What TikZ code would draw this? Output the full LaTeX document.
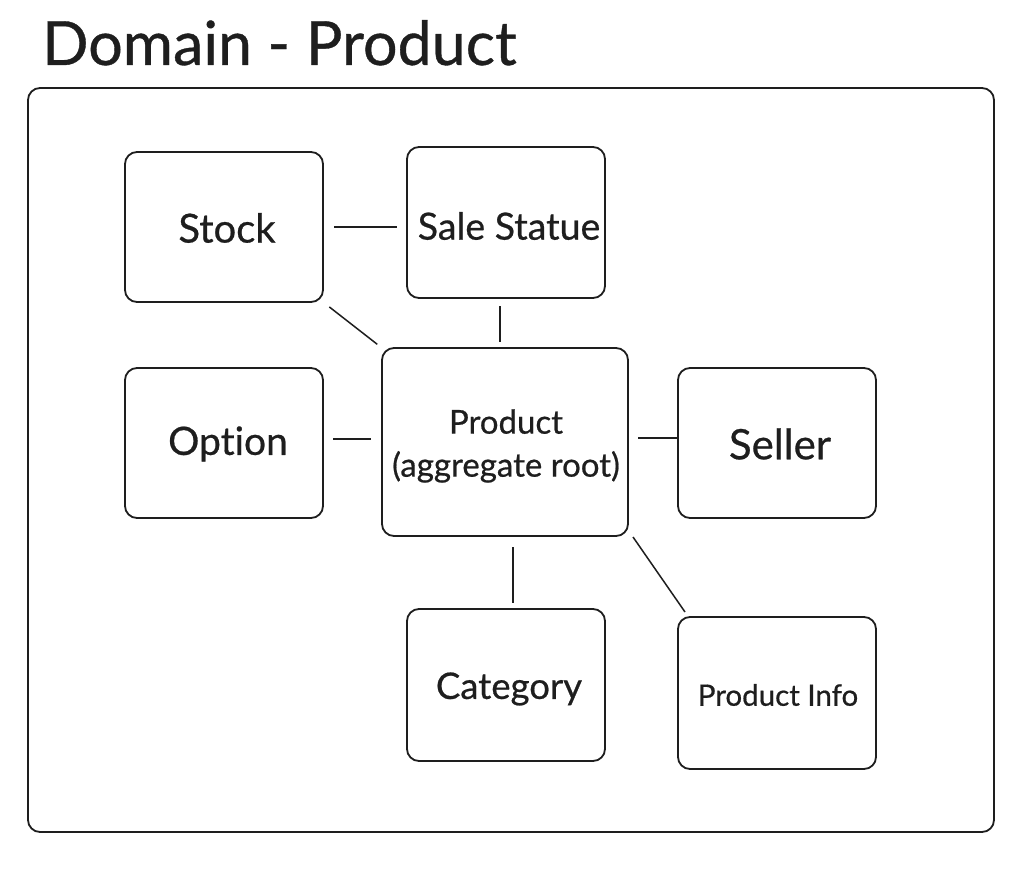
\documentclass[tikz,border=0pt]{standalone}
\usepackage{fontspec}
\setmainfont{Lato}[Ligatures=NoCommon, FakeBold=0.6]
\definecolor{ink}{HTML}{1E1E1E}
\tikzset{
  box/.style={draw=ink, line width=1.8pt, rounded corners=12pt, inner sep=0pt, outer sep=0pt, align=center, text=ink},
  link/.style={draw=ink, line width=1.5pt},
  frame/.style={draw=ink, line width=1.8pt, rounded corners=12pt},
  lbl/.style={text=ink, inner sep=0pt, align=center},
}
\begin{document}
\begin{tikzpicture}[x=1pt,y=-1pt]
\useasboundingbox[fill=white] (0,0) rectangle (1028,872);
\node[anchor=base west, text=ink, font=\fontsize{61}{70}\selectfont, inner sep=0pt] (title) at (42,65) {Domain - Product};
\draw[frame] (28,88) rectangle (994,832);
\node[box, minimum width=198pt, minimum height=150pt] (stock) at (224,227) {};
\node[lbl, font=\fontsize{40}{46}\selectfont] (stocklbl) at (227,228) {Stock};
\node[box, minimum width=198pt, minimum height=151pt] (sale) at (506,222.5) {};
\node[lbl, font=\fontsize{37.5}{44}\selectfont] (salelbl) at (509,226) {Sale Statue};
\node[box, minimum width=198pt, minimum height=150pt] (option) at (224,443) {};
\node[lbl, font=\fontsize{39}{46}\selectfont] (optionlbl) at (228,444) {Option};
\node[box, minimum width=246pt, minimum height=188pt] (product) at (505,442) {};
\node[lbl, font=\fontsize{33}{43}\selectfont] (productlbl) at (506,446) {Product\\(aggregate root)};
\node[box, minimum width=198pt, minimum height=150pt] (seller) at (777,443) {};
\node[lbl, font=\fontsize{42}{48}\selectfont] (sellerlbl) at (780,444) {Seller};
\node[box, minimum width=198pt, minimum height=152pt] (category) at (506,685) {};
\node[lbl, font=\fontsize{36.5}{42}\selectfont] (categorylbl) at (509,689) {Category};
\node[box, minimum width=198pt, minimum height=152pt] (info) at (777,693) {};
\node[lbl, font=\fontsize{29.5}{34}\selectfont] (infolbl) at (778,695) {Product Info};
\draw[link, shorten <=11pt, shorten >=10pt] (stock.east) -- (stock.east -| sale.west);
\draw[link, shorten <=8pt, shorten >=6pt] (stock.south east) -- (product.north west);
\draw[link, shorten <=8pt, shorten >=6pt] ([xshift=-6pt]sale.south) -- ([xshift=-6pt]sale.south |- product.north);
\draw[link, shorten <=10pt, shorten >=11pt] ([yshift=4pt]option.east) -- ([yshift=4pt]option.east -| product.west);
\draw[link, shorten <=10pt, shorten >=1pt] ([yshift=4pt]product.east) -- ([yshift=4pt]product.east -| seller.west);
\draw[link, shorten <=11pt, shorten >=6pt] ([xshift=8pt]product.south) -- ([xshift=8pt]product.south |- category.north);
\draw[link] ([xshift=5pt,yshift=-1pt]product.south east) -- ([xshift=7pt,yshift=5pt]info.north west);
\end{tikzpicture}
\end{document}
